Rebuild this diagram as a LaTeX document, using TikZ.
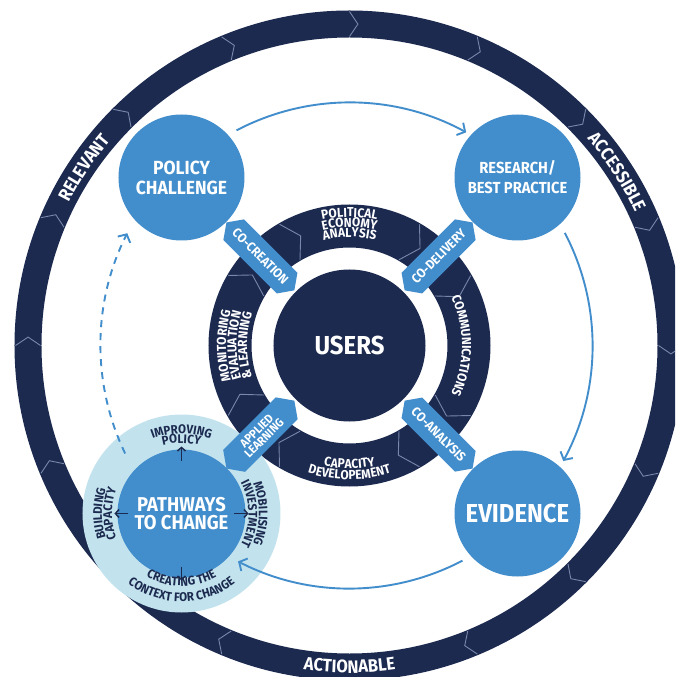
\documentclass[tikz,border=0pt]{standalone}
\usepackage{fontspec}
\setmainfont{Fira Sans}[FakeStretch=0.92]
\usetikzlibrary{arrows.meta,decorations.text,shapes.symbols}
\definecolor{navy}{RGB}{28,42,80}
\definecolor{midblue}{RGB}{66,141,203}
\definecolor{lightblue}{RGB}{194,227,238}
\definecolor{chev}{RGB}{120,135,170}
\newcommand\fsz[1]{\fontsize{#1}{#1}\selectfont}
\newcommand\ofont{\bfseries\fsz{18}\color{white}}
\newcommand\ifont{\bfseries\fsz{13}\color{white}}
\newcommand\pfont{\bfseries\fsz{12.5}\color{navy}}
\begin{document}
\begin{tikzpicture}[x=1pt,y=1pt,
  bigc/.style={circle, fill=midblue, minimum size=126pt, inner sep=0pt, text=white, align=center},
  tabbox/.style={signal, signal to=east and west, signal pointer angle=110, fill=midblue, text=white,
     minimum width=96pt, minimum height=29pt, inner sep=1pt, font=\bfseries\fsz{13}, align=center},
  flow/.style={midblue, line width=1.9pt, -{Straight Barb[length=6pt, width=14pt, line width=1.9pt]}},
  chv/.style={chev, line width=0.9pt},
  rtxt/.style 2 args={decorate, decoration={text along path, text align=center, text={|#1|#2}}},
  small/.style={navy, line width=1.7pt, -{Straight Barb[length=3.5pt, width=8pt, line width=1.5pt]}}
]
\useasboundingbox (-349.5,-331.5) rectangle (325.5,345.5);
\fill[white] (-349.5,-331.5) rectangle (325.5,345.5);
\clip (-349.5,-331.5) rectangle (325.5,345.5);

% outer ring
\fill[navy,even odd rule] (0,0) circle[radius=335] (0,0) circle[radius=308];
\foreach \a in {90,67.5,45,22.5,0,-22.5,-45,-67.5,-112.5,-135,-157.5,180,157.5,135,112.5}
  \draw[chv] (\a:309) -- (\a-1.5:321.5) -- (\a:334);
\path[rtxt={\ofont}{RELEVANT}] (176:315) arc[start angle=176,end angle=116.5,radius=315];
\path[rtxt={\ofont}{ACCESSIBLE}] (63:315) arc[start angle=63,end angle=3,radius=315];
\path[rtxt={\ofont}{ACTIONABLE}] (-120:327.5) arc[start angle=-120,end angle=-60,radius=327.5];

% flow arrows (top, right)
\draw[flow] (117.7:243) arc[start angle=117.7,end angle=61.3,radius=243];
\draw[flow] (27.6:243) arc[start angle=27.6,end angle=-28.4,radius=243];

% inner ring
\fill[navy,even odd rule] (0,0) circle[radius=141] (0,0) circle[radius=98];
\foreach \a in {30,60,120,150,-30,-60,-120,-150}
  \draw[chv] (\a:99) -- (\a-6:120) -- (\a:140);
\path[rtxt={\ifont}{POLITICAL}] (130:128.5) arc[start angle=130,end angle=50,radius=128.5];
\path[rtxt={\ifont}{ECONOMY}] (130:118.5) arc[start angle=130,end angle=50,radius=118.5];
\path[rtxt={\ifont}{ANALYSIS}] (130:108.5) arc[start angle=130,end angle=50,radius=108.5];
\path[rtxt={\ifont}{COMMUNICATIONS}] (45:112.5) arc[start angle=45,end angle=-45,radius=112.5];
\path[rtxt={\ifont}{CAPACITY}] (-130:123) arc[start angle=-130,end angle=-50,radius=123];
\path[rtxt={\ifont}{DEVELOPEMENT}] (-140:134) arc[start angle=-140,end angle=-40,radius=134];
\path[rtxt={\ifont}{MONITORING}] (220:123.5) arc[start angle=220,end angle=140,radius=123.5];
\path[rtxt={\ifont}{EVALUATION}] (220:113) arc[start angle=220,end angle=140,radius=113];
\path[rtxt={\ifont}{{\&} LEARNING}] (220:102.5) arc[start angle=220,end angle=140,radius=102.5];

% users
\node[circle, fill=navy, minimum size=152pt, inner sep=0pt, text=white, font=\bfseries\fsz{26}] (users) at (0,0) {USERS};

% big circles
\node[bigc, font=\bfseries\fontsize{19}{20}\selectfont] (pol) at (-168,168) {POLICY\\CHALLENGE};
\node[bigc, font=\bfseries\fontsize{16}{20}\selectfont] (res) at (168,168) {RESEARCH/\\BEST PRACTICE};
\node[bigc, font=\bfseries\fsz{26}] (evi) at (168,-168) {EVIDENCE};

% pathways
\node[circle, fill=lightblue, minimum size=198pt, inner sep=0pt] (pwl) at (-168,-168) {};
\node[bigc, minimum size=128pt, font=\bfseries\fontsize{20}{18.5}\selectfont] (pw) at (-168,-168) {PATHWAYS\\TO CHANGE};
\begin{scope}[shift={(-168,-168)}]
  \path[rtxt={\pfont}{IMPROVING}] (140:80) arc[start angle=140,end angle=40,radius=80];
  \path[rtxt={\pfont}{POLICY}] (130:70.5) arc[start angle=130,end angle=50,radius=70.5];
  \path[rtxt={\pfont}{MOBILISING}] (55:77.5) arc[start angle=55,end angle=-55,radius=77.5];
  \path[rtxt={\pfont}{INVESTMENT}] (60:67) arc[start angle=60,end angle=-60,radius=67];
  \path[rtxt={\pfont}{CREATING THE}] (-150:72.5) arc[start angle=-150,end angle=-30,radius=72.5];
  \path[rtxt={\pfont}{CONTEXT FOR CHANGE}] (-165:88) arc[start angle=-165,end angle=-15,radius=88];
  \path[rtxt={\pfont}{BUILDING}] (230:79.5) arc[start angle=230,end angle=130,radius=79.5];
  \path[rtxt={\pfont}{CAPACITY}] (230:69.5) arc[start angle=230,end angle=130,radius=69.5];
  \foreach \a in {0,90,180,270}
    \draw[small] (\a:53) -- (\a:67);
\end{scope}

% tabs
\node[tabbox, rotate=-45] (tcc) at (135:126) {CO-CREATION};
\node[tabbox, rotate=45] (tcd) at (45:126) {CO-DELIVERY};
\node[tabbox, rotate=-45] (tca) at (-45:126) {CO-ANALYSIS};
\node[tabbox, rotate=45, minimum height=31pt, font=\bfseries\fontsize{12}{10.5}\selectfont] (tal) at (-135:126) {APPLIED\\LEARNING};

% flow arrows (bottom, left)
\draw[flow] (-62.3:243) arc[start angle=-62.3,end angle=-117.3,radius=243];
\draw[flow, dash pattern=on 7pt off 6pt] (205.7:249) arc[start angle=205.7,end angle=153.2,radius=249];
\end{tikzpicture}
\end{document}
